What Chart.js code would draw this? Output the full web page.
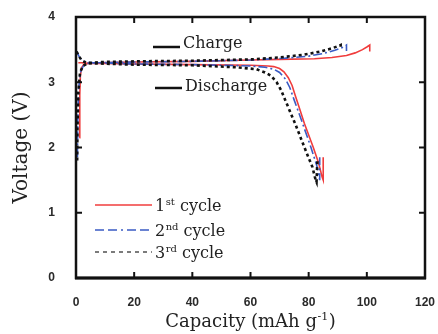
<!DOCTYPE html>
<html>
<head>
<meta charset="utf-8">
<script src="https://cdn.jsdelivr.net/npm/chart.js@4/dist/chart.umd.min.js"></script>
<style>
html,body{margin:0;padding:0;background:#fff;}
#wrap{width:438px;height:334px;position:relative;}
</style>
</head>
<body>
<div id="wrap"><canvas id="c" width="438" height="334"></canvas></div>
<script>
// ---- data ----
const xTicks = [0, 20, 40, 60, 80, 100, 120];
const yTicks = [0, 1, 2, 3, 4];

const c1ChargeCap = [1.2, 1.3, 1.5, 1.9, 2.6, 4, 8, 20, 40, 60, 70, 82, 88, 93, 96, 98.5, 100, 101, 101];
const c1ChargeV   = [2.15, 2.8, 3.1, 3.22, 3.27, 3.29, 3.3, 3.31, 3.32, 3.34, 3.35, 3.36, 3.38, 3.41, 3.45, 3.5, 3.54, 3.57, 3.47];
const c1DischCap  = [0.8, 2, 4, 10, 20, 40, 60, 66, 68, 70, 71.5, 73, 74.3, 75.5, 77, 78.5, 81.6, 83.5, 84.6, 85, 85];
const c1DischV    = [3.3, 3.3, 3.29, 3.29, 3.28, 3.27, 3.26, 3.25, 3.24, 3.21, 3.16, 3.07, 2.95, 2.78, 2.58, 2.37, 2.0, 1.75, 1.55, 1.5, 1.85];

const c2ChargeCap = [0.5, 0.6, 0.9, 1.5, 2.5, 4, 8, 20, 40, 60, 72, 80, 85, 89, 92, 93, 93];
const c2ChargeV   = [1.85, 2.4, 2.9, 3.15, 3.25, 3.29, 3.3, 3.31, 3.32, 3.34, 3.37, 3.4, 3.44, 3.49, 3.54, 3.57, 3.48];
const c2DischCap  = [0.3, 1, 2, 3.5, 6, 20, 40, 60, 65, 68, 70, 72, 73.5, 75, 77.5, 80.8, 82.8, 83.6, 83.8, 83.8];
const c2DischV    = [3.47, 3.4, 3.34, 3.31, 3.3, 3.28, 3.27, 3.25, 3.23, 3.2, 3.15, 3.05, 2.92, 2.73, 2.42, 2.0, 1.72, 1.55, 1.5, 1.85];

const c3ChargeCap = [0.4, 0.5, 0.8, 1.4, 2.4, 4, 8, 20, 40, 60, 70, 78, 84, 88, 90.5, 91, 91];
const c3ChargeV   = [1.8, 2.3, 2.85, 3.15, 3.25, 3.29, 3.31, 3.32, 3.33, 3.35, 3.38, 3.42, 3.47, 3.52, 3.56, 3.57, 3.5];
const c3DischCap  = [0.2, 1, 2, 3.5, 6, 20, 40, 55, 62, 65, 67, 69, 70.5, 72, 75.5, 79, 81.3, 82.4, 82.7, 83];
const c3DischV    = [3.47, 3.4, 3.33, 3.3, 3.29, 3.27, 3.26, 3.23, 3.2, 3.15, 3.1, 3.0, 2.88, 2.72, 2.35, 1.95, 1.7, 1.5, 1.47, 1.8];

const seriesNames = ['1', '2', '3'];
const seriesSups  = ['st', 'nd', 'rd'];
const seriesWord  = ' cycle';
const chargeText = 'Charge';
const dischargeText = 'Discharge';
const xTitleMain = 'Capacity (mAh g';
const xTitleSup = '-1';
const xTitleEnd = ')';
const yTitle = 'Voltage (V)';

// ---- styles ----
const RED = '#f03c3c', BLUE = '#3a5bc4', BLACK = '#111111';
const styles = [
  {color: RED, width: 1.6, dash: []},
  {color: BLUE, width: 1.6, dash: [9, 3, 2, 3]},
  {color: BLACK, width: 2.6, dash: [3, 3]}
];

function pts(xs, ys) { return xs.map((v, i) => ({x: v, y: ys[i]})); }
function ds(xs, ys, s) {
  return {data: pts(xs, ys), borderColor: s.color, borderWidth: s.width, borderDash: s.dash,
    pointRadius: 0, tension: 0, fill: false};
}

// draw order: 3rd (black) underneath, then blue, then red
const datasets = [
  ds(c3ChargeCap, c3ChargeV, styles[2]), ds(c3DischCap, c3DischV, styles[2]),
  ds(c2ChargeCap, c2ChargeV, styles[1]), ds(c2DischCap, c2DischV, styles[1]),
  ds(c1ChargeCap, c1ChargeV, styles[0]), ds(c1DischCap, c1DischV, styles[0])
];

const SERIF = '"DejaVu Serif", serif';

const decoPlugin = {
  id: 'deco',
  afterDraw(chart) {
    const {ctx, chartArea: {left, right, top, bottom}, scales: {x, y}} = chart;
    ctx.save();
    // frame
    ctx.strokeStyle = '#111';
    ctx.lineWidth = 2.5;
    ctx.setLineDash([]);
    ctx.strokeRect(left, top, right - left, bottom - top);
    ctx.lineWidth = 3;
    ctx.beginPath(); ctx.moveTo(left - 1, bottom); ctx.lineTo(right + 1, bottom); ctx.stroke();
    // inward ticks
    ctx.lineWidth = 2;
    const L = 6;
    xTicks.forEach(v => {
      const px = x.getPixelForValue(v);
      ctx.beginPath(); ctx.moveTo(px, bottom); ctx.lineTo(px, bottom - L); ctx.stroke();
      ctx.beginPath(); ctx.moveTo(px, top); ctx.lineTo(px, top + L); ctx.stroke();
    });
    yTicks.forEach(v => {
      const py = y.getPixelForValue(v);
      ctx.beginPath(); ctx.moveTo(left, py); ctx.lineTo(left + L, py); ctx.stroke();
      ctx.beginPath(); ctx.moveTo(right, py); ctx.lineTo(right - L, py); ctx.stroke();
    });

    // legend
    const legX0 = 95, legX1 = 152, legText = 155;
    const rows = [205, 230, 252];
    const legStyles = [
      {color: RED, width: 1.3, dash: []},
      {color: BLUE, width: 1.3, dash: [9, 4, 9, 4, 2, 4]},
      {color: BLACK, width: 1.1, dash: [4, 4]}
    ];
    rows.forEach((ry, i) => {
      const s = legStyles[i];
      ctx.strokeStyle = s.color; ctx.lineWidth = s.width; ctx.setLineDash(s.dash);
      ctx.beginPath(); ctx.moveTo(legX0, ry); ctx.lineTo(legX1, ry); ctx.stroke();
      ctx.setLineDash([]);
      ctx.fillStyle = '#222';
      ctx.textBaseline = 'alphabetic'; ctx.textAlign = 'left';
      ctx.font = '16px ' + SERIF;
      let tx = legText;
      const base = ry + 6;
      ctx.fillText(seriesNames[i], tx, base);
      tx += ctx.measureText(seriesNames[i]).width + 0.5;
      ctx.font = '10px ' + SERIF;
      ctx.fillText(seriesSups[i], tx, base - 6);
      tx += ctx.measureText(seriesSups[i]).width;
      ctx.font = '16px ' + SERIF;
      ctx.fillText(seriesWord, tx, base);
    });

    // Charge / Discharge annotations
    ctx.strokeStyle = '#111'; ctx.lineWidth = 2.5; ctx.setLineDash([]);
    ctx.beginPath(); ctx.moveTo(153, 47); ctx.lineTo(180, 47); ctx.stroke();
    ctx.beginPath(); ctx.moveTo(155, 88); ctx.lineTo(182, 88); ctx.stroke();
    ctx.fillStyle = '#222';
    ctx.font = '16px ' + SERIF;
    ctx.textAlign = 'left'; ctx.textBaseline = 'alphabetic';
    ctx.fillText(chargeText, 183, 48);
    ctx.fillText(dischargeText, 185, 91);

    // x title with superscript
    ctx.font = '18px ' + SERIF;
    const w1 = ctx.measureText(xTitleMain).width;
    const w3 = ctx.measureText(xTitleEnd).width;
    ctx.font = '11px ' + SERIF;
    const w2 = ctx.measureText(xTitleSup).width;
    const cx = (left + right) / 2;
    let tx = cx - (w1 + w2 + w3 + 1) / 2;
    const tb = 327;
    ctx.font = '18px ' + SERIF;
    ctx.fillText(xTitleMain, tx, tb);
    tx += w1 + 0.5;
    ctx.font = '11px ' + SERIF;
    ctx.fillText(xTitleSup, tx, tb - 7);
    tx += w2 + 0.5;
    ctx.font = '18px ' + SERIF;
    ctx.fillText(xTitleEnd, tx, tb);

    // y title
    ctx.save();
    ctx.translate(27, (top + bottom) / 2);
    ctx.rotate(-Math.PI / 2);
    ctx.font = '20px ' + SERIF;
    ctx.textAlign = 'center';
    ctx.textBaseline = 'alphabetic';
    ctx.fillText(yTitle, 0, 0);
    ctx.restore();

    ctx.restore();
  }
};

new Chart(document.getElementById('c'), {
  type: 'line',
  data: {datasets},
  plugins: [decoPlugin],
  options: {
    responsive: false,
    animation: false,
    events: [],
    layout: {padding: {left: 0, right: 13, top: 17, bottom: 0}},
    plugins: {legend: {display: false}, tooltip: {enabled: false}, title: {display: false}},
    scales: {
      x: {
        type: 'linear', min: 0, max: 120,
        afterBuildTicks: s => { s.ticks = xTicks.map(v => ({value: v})); },
        afterFit: s => { s.height = 56; s.paddingLeft = 0; s.paddingRight = 0; s.paddingTop = 0; s.paddingBottom = 0; },
        grid: {display: false, drawTicks: false},
        border: {display: false},
        ticks: {padding: 17, color: '#2a2a2a', font: {family: '"Liberation Sans", Arial, sans-serif', size: 12, weight: 'bold'}, maxRotation: 0}
      },
      y: {
        type: 'linear', min: 0, max: 4,
        afterBuildTicks: s => { s.ticks = yTicks.map(v => ({value: v})); },
        afterFit: s => { s.width = 76; s.paddingLeft = 0; s.paddingRight = 0; s.paddingTop = 0; s.paddingBottom = 0; },
        grid: {display: false, drawTicks: false},
        border: {display: false},
        ticks: {padding: 21, color: '#2a2a2a', font: {family: '"Liberation Sans", Arial, sans-serif', size: 12, weight: 'bold'}}
      }
    }
  }
});
</script>
</body>
</html>
